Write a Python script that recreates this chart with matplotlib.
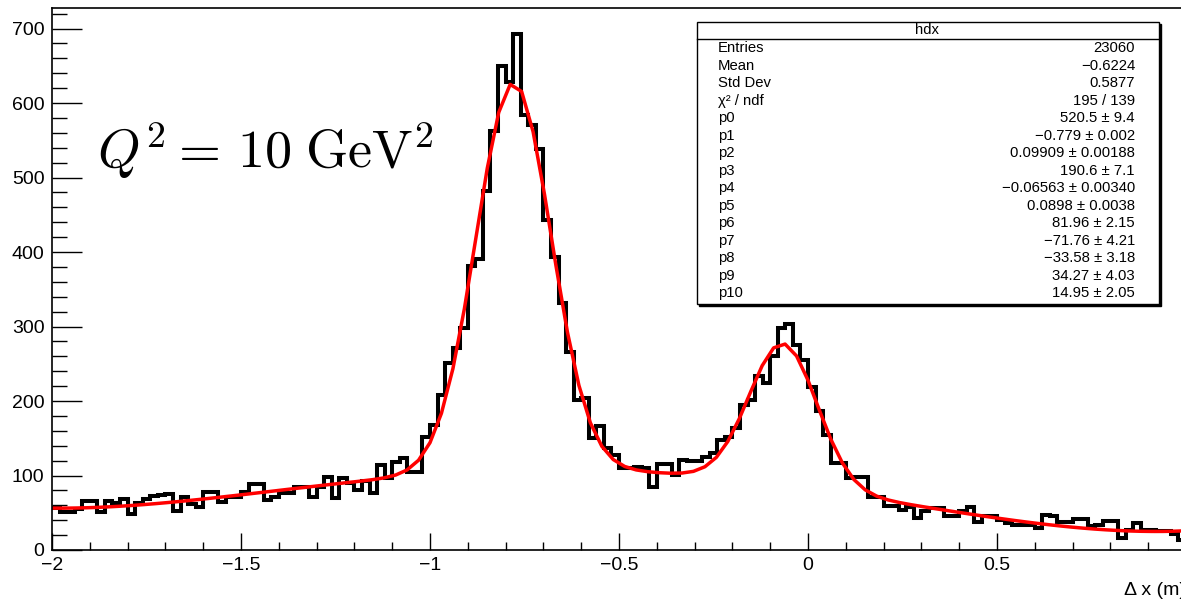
import numpy as np
import matplotlib
matplotlib.use("Agg")
import matplotlib.pyplot as plt
from matplotlib.ticker import MultipleLocator, FuncFormatter
from matplotlib.patches import Rectangle

plt.rcParams['font.family'] = ['Liberation Sans', 'DejaVu Sans']
plt.rcParams['mathtext.fontset'] = 'cm'

# hdx: 150 bins on [-2, 1]
x_lo, x_hi, n_bins = -2.0, 1.0, 150
counts = [
    56, 51, 51, 55, 66, 66, 51, 66, 63, 68,
    48, 63, 68, 72, 74, 75, 52, 71, 62, 58,
    78, 78, 65, 71, 71, 78, 88, 88, 67, 71,
    77, 77, 84, 84, 71, 84, 98, 70, 97, 90,
    80, 92, 76, 114, 96, 118, 123, 105, 105, 152,
    168, 208, 251, 271, 298, 381, 391, 482, 562, 650,
    628, 693, 584, 570, 538, 443, 394, 332, 266, 201,
    204, 150, 167, 137, 128, 110, 110, 112, 110, 85,
    116, 116, 101, 121, 119, 119, 125, 130, 148, 152,
    164, 194, 202, 233, 224, 260, 298, 304, 275, 255,
    219, 186, 155, 117, 117, 96, 98, 98, 71, 71,
    59, 59, 54, 58, 43, 52, 56, 56, 45, 45,
    52, 58, 38, 45, 45, 40, 36, 34, 34, 34,
    29, 47, 46, 38, 38, 41, 41, 32, 34, 39,
    39, 16, 27, 36, 27, 27, 25, 25, 22, 13,
]

# fit: gaus(p0,p1,p2) + gaus(p3,p4,p5) + pol4(p6..p10)
par = [520.5, -0.779, 0.09909, 190.6, -0.06563, 0.0898,
       81.96, -71.76, -33.58, 34.27, 14.95]

stat_names = ['Entries', 'Mean', 'Std Dev', '\u03c7\u00b2 / ndf'] + ['p%d' % i for i in range(11)]
stat_values = ['23060', '\u22120.6224', '0.5877', '195 / 139',
               '520.5 \u00b1 9.4', '\u22120.779 \u00b1 0.002',
               '0.09909 \u00b1 0.00188', '190.6 \u00b1 7.1',
               '\u22120.06563 \u00b1 0.00340', '0.0898 \u00b1 0.0038',
               '81.96 \u00b1 2.15', '\u221271.76 \u00b1 4.21',
               '\u221233.58 \u00b1 3.18', '34.27 \u00b1 4.03',
               '14.95 \u00b1 2.05']


def fitfunc(x, p):
    g1 = p[0] * np.exp(-0.5 * ((x - p[1]) / p[2]) ** 2)
    g2 = p[3] * np.exp(-0.5 * ((x - p[4]) / p[5]) ** 2)
    bg = p[6] + p[7] * x + p[8] * x ** 2 + p[9] * x ** 3 + p[10] * x ** 4
    return g1 + g2 + bg


def xfmt(v, pos):
    if v > 0.99:
        return ''
    return ('%g' % v).replace('-', '\u2212')


W, H = 1181, 600
fig = plt.figure(figsize=(W / 100, H / 100), dpi=100)
# frame runs to x=1 just past the right edge
ax = fig.add_axes([52 / W, 50 / H, 1134 / W, 542 / H])

edges = np.linspace(x_lo, x_hi, n_bins + 1)
ax.stairs(counts, edges, baseline=None, color='black', lw=2.9)

xf = np.linspace(x_lo, x_hi, 100)
ax.plot(xf, fitfunc(xf, par), color='red', lw=2.5)

ax.set_xlim(x_lo, x_hi)
ax.set_ylim(0, 1.05 * max(counts))

ax.xaxis.set_major_locator(MultipleLocator(0.5))
ax.xaxis.set_minor_locator(MultipleLocator(0.1))
ax.yaxis.set_major_locator(MultipleLocator(100))
ax.yaxis.set_minor_locator(MultipleLocator(20))
ax.xaxis.set_major_formatter(FuncFormatter(xfmt))
ax.yaxis.set_major_formatter(FuncFormatter(lambda v, pos: '%g' % v))

ax.tick_params(which='both', direction='in', top=False, right=False,
               labelsize=14, width=1.0)
ax.tick_params(axis='y', which='major', length=21.5, pad=5.5)
ax.tick_params(axis='y', which='minor', length=10.8)
ax.tick_params(axis='x', which='major', length=12.2, pad=5)
ax.tick_params(axis='x', which='minor', length=6)
for s in ax.spines.values():
    s.set_linewidth(1.2)

ax.text(1.0, -0.075, '\u0394 x (m)', transform=ax.transAxes,
        ha='right', va='center', fontsize=14)

fig.text(97 / W, 1 - 168 / H, r'$Q^2 =\,10\;\mathrm{GeV}^2$',
         fontsize=39, ha='left', va='baseline')

# stats box
bx0, by0, bx1, by1 = 696.5, 21.5, 1158.5, 303.5
sb = fig.add_axes([0, 0, 1, 1], facecolor='none')
sb.set_xlim(0, W)
sb.set_ylim(H, 0)
sb.axis('off')
sb.add_patch(Rectangle((bx0 + 2, by0 + 2), bx1 - bx0, by1 - by0,
                       facecolor='black', edgecolor='black', lw=1))
sb.add_patch(Rectangle((bx0, by0), bx1 - bx0, by1 - by0,
                       facecolor='white', edgecolor='black', lw=1))
sb.plot([bx0, bx1], [38.5, 38.5], color='black', lw=1)
sb.text((bx0 + bx1) / 2, 30.5, 'hdx', ha='center', va='center', fontsize=10.7)
for k, (nm, val) in enumerate(zip(stat_names, stat_values)):
    yy = 48.3 + 17.5 * k
    sb.text(718, yy, nm, ha='left', va='center', fontsize=10.7)
    sb.text(1135, yy, val, ha='right', va='center', fontsize=10.7)

fig.savefig('out.png', dpi=100)
